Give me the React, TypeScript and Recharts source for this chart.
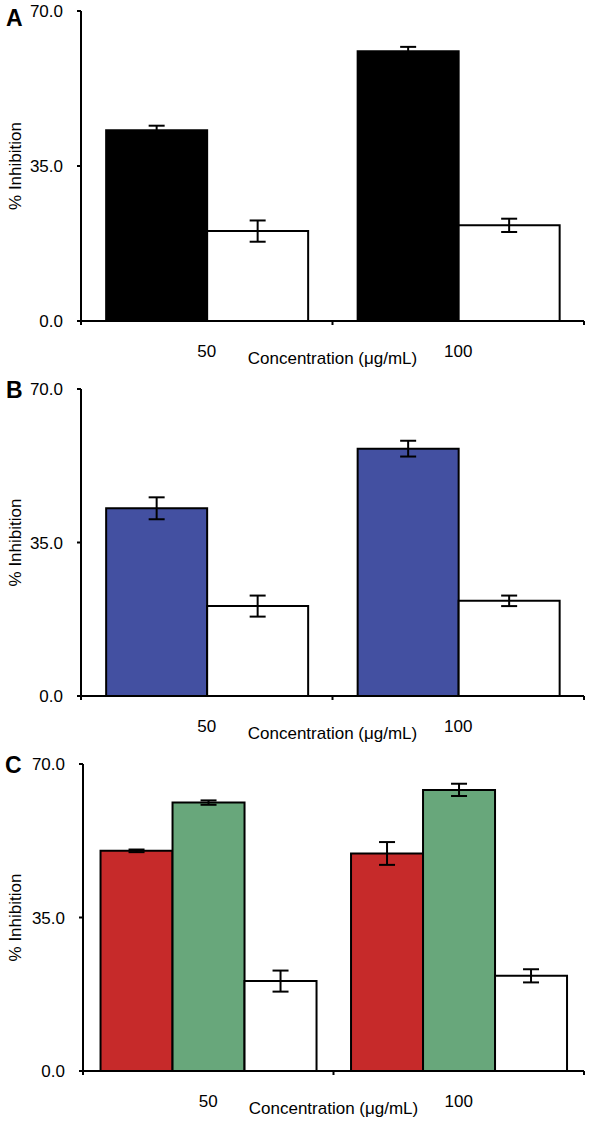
import { BarChart, Bar, XAxis, YAxis, ErrorBar, Label } from "recharts";

const concentrations = ["50", "100"];
const yTicks = [0, 35, 70];

// panel A
const aExtract = [43.1, 60.9];
const aExtractErr = [1.0, 1.0];
const aControl = [20.3, 21.6];
const aControlErr = [2.4, 1.5];

// panel B
const bExtract = [42.8, 56.4];
const bExtractErr = [2.5, 1.8];
const bControl = [20.5, 21.7];
const bControlErr = [2.4, 1.2];

// panel C
const cRed = [50.2, 49.6];
const cRedErr = [0.3, 2.6];
const cGreen = [61.2, 64.1];
const cGreenErr = [0.5, 1.4];
const cControl = [20.5, 21.7];
const cControlErr = [2.4, 1.5];

const FONT = "'Liberation Sans', Arial, sans-serif";
const FS = 17;

function ConcTick(props: any) {
  const { x, y, payload, index } = props;
  const half = payload && payload.offset ? payload.offset : 125.75;
  return (
    <g>
      {index === 0 && <line x1={x - half} x2={x - half} y1={y - 4} y2={y} stroke="#000" strokeWidth={2} />}
      <line x1={x + half} x2={x + half} y1={y - 4} y2={y} stroke="#000" strokeWidth={2} />
      <text x={x} y={y + 32} textAnchor="middle" fontSize={FS} fill="#000" fontFamily={FONT}>
        {payload.value}
      </text>
    </g>
  );
}

type Series = { key: string; values: number[]; errs: number[]; fill: string };

function Panel({ series, top, marginTop, marginBottom, axisWidth, gap }: {
  series: Series[]; top: number; marginTop: number; marginBottom: number; axisWidth: number; gap: string;
}) {
  const data = concentrations.map((c, i) => {
    const row: any = { conc: c };
    series.forEach((s) => {
      row[s.key] = s.values[i];
      row[s.key + "Err"] = s.errs[i];
    });
    return row;
  });
  return (
    <div style={{ position: "absolute", left: 0, top }}>
      <BarChart
        width={592}
        height={376}
        data={data}
        margin={{ top: marginTop, right: 8, bottom: marginBottom, left: 0 }}
        barCategoryGap={gap}
        barGap={0}
      >
        <XAxis
          dataKey="conc"
          height={50}
          axisLine={{ stroke: "#000", strokeWidth: 2 }}
          tickLine={false}
          tickSize={4}
          tickMargin={0}
          tick={<ConcTick />}
          interval={0}
        >
          <Label
            value="Concentration (μg/mL)"
            position="insideBottom"
            offset={7}
            style={{ fontSize: FS, fill: "#000", fontFamily: FONT }}
          />
        </XAxis>
        <YAxis
          width={axisWidth}
          domain={[0, 70]}
          ticks={yTicks}
          tickFormatter={(v: number) => v.toFixed(1)}
          axisLine={{ stroke: "#000", strokeWidth: 2 }}
          tickLine={{ stroke: "#000", strokeWidth: 2 }}
          tickSize={4}
          tickMargin={14}
          tick={{ fontSize: FS, fill: "#000", fontFamily: FONT }}
        >
          <Label
            value="% Inhibition"
            angle={-90}
            position="insideLeft"
            offset={15}
            style={{ fontSize: FS, fill: "#000", fontFamily: FONT, textAnchor: "middle" }}
          />
        </YAxis>
        {series.map((s) => (
          <Bar key={s.key} dataKey={s.key} fill={s.fill} stroke="#000" strokeWidth={2} isAnimationActive={false}>
            <ErrorBar dataKey={s.key + "Err"} width={8} strokeWidth={2} stroke="#000" direction="y" />
          </Bar>
        ))}
      </BarChart>
    </div>
  );
}

export default function App() {
  return (
    <div style={{ position: "absolute", left: 0, top: 0, width: 592, height: 1123, background: "#fff", fontFamily: FONT }}>
      <Panel
        top={0}
        marginTop={11}
        marginBottom={5}
        axisWidth={81}
        gap="10%"
        series={[
          { key: "ext", values: aExtract, errs: aExtractErr, fill: "#000000" },
          { key: "ctl", values: aControl, errs: aControlErr, fill: "#ffffff" },
        ]}
      />
      <Panel
        top={377}
        marginTop={12}
        marginBottom={7}
        axisWidth={81}
        gap="10%"
        series={[
          { key: "ext", values: bExtract, errs: bExtractErr, fill: "#4350a1" },
          { key: "ctl", values: bControl, errs: bControlErr, fill: "#ffffff" },
        ]}
      />
      <Panel
        top={752}
        marginTop={12}
        marginBottom={7}
        axisWidth={83}
        gap="7%"
        series={[
          { key: "red", values: cRed, errs: cRedErr, fill: "#c62a2a" },
          { key: "green", values: cGreen, errs: cGreenErr, fill: "#68a77b" },
          { key: "ctl", values: cControl, errs: cControlErr, fill: "#ffffff" },
        ]}
      />
      <svg width={592} height={1123} style={{ position: "absolute", left: 0, top: 0, pointerEvents: "none" }}>
        <text x={6} y={26} fontSize={23} fontWeight="bold" fontFamily={FONT}>A</text>
        <text x={6} y={398} fontSize={23} fontWeight="bold" fontFamily={FONT}>B</text>
        <text x={5} y={773} fontSize={23} fontWeight="bold" fontFamily={FONT}>C</text>
      </svg>
    </div>
  );
}
